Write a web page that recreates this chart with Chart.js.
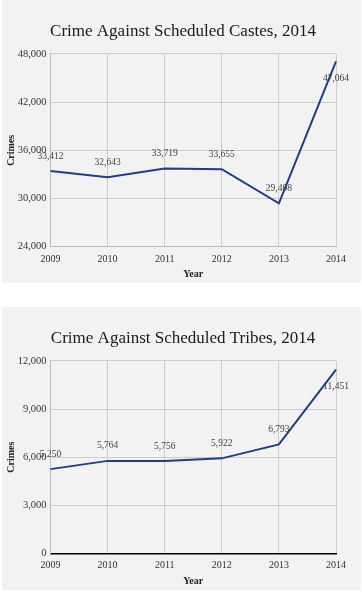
<!DOCTYPE html>
<html>
<head>
<meta charset="utf-8">
<script src="https://cdn.jsdelivr.net/npm/chart.js@4/dist/chart.umd.min.js"></script>
<style>
  html, body { margin: 0; padding: 0; background: #ffffff; }
  .panel { position: absolute; left: 2px; width: 359px; height: 283px; background: #f2f2f2; }
  #p1 { top: 0px; }
  #p2 { top: 307px; }
</style>
</head>
<body>
<div class="panel" id="p1"><canvas id="c1"></canvas></div>
<div class="panel" id="p2"><canvas id="c2"></canvas></div>
<script>
const years = ['2009', '2010', '2011', '2012', '2013', '2014'];
const castesCrimes = [33412, 32643, 33719, 33655, 29408, 47064];
const tribesCrimes = [5250, 5764, 5756, 5922, 6793, 11451];
const castesTicks = [24000, 30000, 36000, 42000, 48000];
const tribesTicks = [0, 3000, 6000, 9000, 12000];
const castesTitle = 'Crime Against Scheduled Castes, 2014';
const tribesTitle = 'Crime Against Scheduled Tribes, 2014';

const SERIF = '"Liberation Serif", "Times New Roman", serif';

const pointLabels = {
  id: 'pointLabels',
  afterDatasetsDraw(chart) {
    const ctx = chart.ctx;
    const area = chart.chartArea;
    const meta = chart.getDatasetMeta(0);
    const data = chart.data.datasets[0].data;
    ctx.save();
    ctx.font = '9.5px ' + SERIF;
    ctx.fillStyle = '#444';
    ctx.textAlign = 'center';
    ctx.textBaseline = 'middle';
    meta.data.forEach((pt, i) => {
      const txt = data[i].toLocaleString('en-US');
      let y = pt.y - 15;
      if (y - 5 < area.top) y = pt.y + 17;
      ctx.fillText(txt, pt.x, y);
    });
    ctx.restore();
  }
};

function makeChart(id, title, values, ticks, xBorderColor, xBorderWidth, xHeight) {
  new Chart(document.getElementById(id), {
    type: 'line',
    data: {
      labels: years,
      datasets: [{
        data: values,
        borderColor: '#1f3d8a',
        borderWidth: 2,
        pointRadius: 0,
        tension: 0,
        fill: false
      }]
    },
    options: {
      responsive: true,
      maintainAspectRatio: false,
      animation: false,
      layout: { padding: { left: 3, right: 0, top: 0, bottom: 0 } },
      plugins: {
        legend: { display: false },
        tooltip: { enabled: false },
        title: {
          display: true,
          text: title,
          color: '#1a1a1a',
          font: { family: SERIF, size: 17, weight: 'normal' },
          padding: { top: 21, bottom: 12.5 }
        }
      },
      scales: {
        x: {
          type: 'category',
          offset: false,
          grid: { color: '#cccccc', drawTicks: false, offset: false },
          border: { color: xBorderColor, width: xBorderWidth },
          ticks: { color: '#333', padding: 6.5, maxRotation: 0, autoSkip: false,
                   font: { family: SERIF, size: 10 } },
          title: { display: true, text: 'Year', color: '#222',
                   font: { family: SERIF, size: 10, weight: 'bold' },
                   padding: { top: 0, bottom: 2.5 } },
          afterFit(scale) { scale.height = xHeight; }
        },
        y: {
          min: ticks[0],
          max: ticks[ticks.length - 1],
          grid: { color: '#cccccc', drawTicks: false },
          border: { color: '#bbbbbb', width: 1 },
          afterBuildTicks(scale) { scale.ticks = ticks.map(v => ({ value: v })); },
          ticks: { color: '#333', padding: 4,
                   font: { family: SERIF, size: 10.5 },
                   callback: v => Number(v).toLocaleString('en-US') },
          title: { display: true, text: 'Crimes', color: '#222',
                   font: { family: SERIF, size: 10, weight: 'bold' },
                   padding: { top: 0.7, bottom: 0 } },
          afterFit(scale) { scale.width = 45.5; }
        },
        yRight: {
          position: 'right',
          display: true,
          grid: { display: false, drawTicks: false },
          border: { display: false },
          ticks: { display: false },
          afterFit(scale) { scale.width = 25; }
        }
      }
    },
    plugins: [pointLabels]
  });
}

makeChart('c1', castesTitle, castesCrimes, castesTicks, '#bbbbbb', 1, 36.3);
makeChart('c2', tribesTitle, tribesCrimes, tribesTicks, '#000000', 1.5, 36.7);
</script>
</body>
</html>
